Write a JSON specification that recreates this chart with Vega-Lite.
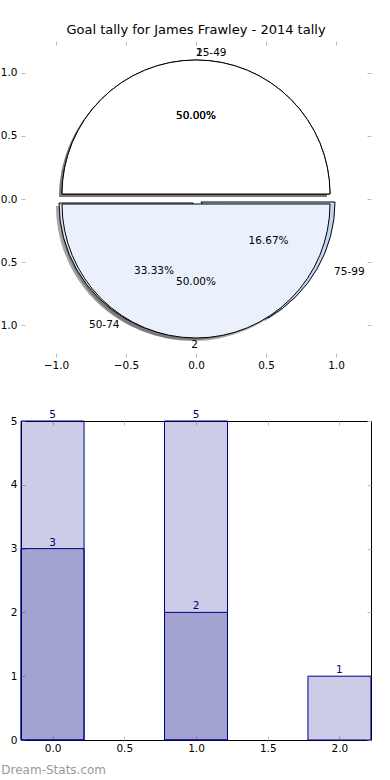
{
  "$schema": "https://vega.github.io/schema/vega-lite/v6.json",
  "padding": {"left": -9, "top": 23, "right": 0, "bottom": 0},
  "config": {
    "font": "DejaVu Sans",
    "view": {"stroke": null},
    "axis": {"labelFont": "DejaVu Sans", "labelFontSize": 10.5, "labelColor": "#000", "tickColor": "#bbbbbb", "tickSize": -4, "domain": false, "grid": false, "title": null},
    "axisX": {"labelPadding": 7},
    "axisY": {"labelPadding": 8},
    "title": {"font": "DejaVu Sans", "fontSize": 13, "fontWeight": "normal", "color": "#000"},
    "text": {"font": "DejaVu Sans"}
  },
  "datasets": {
    "pie1": [
      {"label": "1", "value": 1, "pct": "50.00%"},
      {"label": "2", "value": 1, "pct": "50.00%"}
    ],
    "pie2": [
      {"label": "25-49", "value": 3, "pct": "50.00%"},
      {"label": "50-74", "value": 2, "pct": "33.33%"},
      {"label": "75-99", "value": 1, "pct": "16.67%"}
    ],
    "bars": [
      {"pos": 0, "total": 5, "part": 3},
      {"pos": 1, "total": 5, "part": 2},
      {"pos": 2, "total": 1, "part": null}
    ]
  },
  "spacing": 38,
  "vconcat": [
    {
      "width": 350,
      "height": 316,
      "title": {"text": "Goal tally for James Frawley - 2014 tally", "offset": 4, "baseline": "top"},
      "view": {"stroke": null},
      "resolve": {"axis": {"x": "independent", "y": "independent"}},
      "layer": [
        {"data": {"name": "pie1"}, "mark": {"type": "point", "opacity": 0},
         "encoding": {
           "x": {"datum": 0, "type": "quantitative", "scale": {"domain": [-1.25, 1.25], "nice": false, "zero": false}, "axis": {"orient": "bottom", "values": [-1, -0.5, 0, 0.5, 1], "format": ".1f"}},
           "y": {"datum": 0, "type": "quantitative", "scale": {"domain": [-1.25, 1.25], "nice": false, "zero": false}, "axis": {"orient": "left", "values": [-1, -0.5, 0, 0.5, 1], "format": ".1f"}}}},
        {"data": {"name": "pie1"}, "mark": {"type": "point", "opacity": 0},
         "encoding": {
           "x": {"datum": 0, "type": "quantitative", "scale": {"domain": [-1.25, 1.25], "nice": false, "zero": false}, "axis": {"orient": "top", "values": [-1, -0.5, 0, 0.5, 1], "labels": false}},
           "y": {"datum": 0, "type": "quantitative", "scale": {"domain": [-1.25, 1.25], "nice": false, "zero": false}, "axis": {"orient": "right", "values": [-1, -0.5, 0, 0.5, 1], "labels": false}}}},

        {"data": {"name": "pie2"}, "mark": {"type": "arc", "radius": 134, "fill": "#4d4d4d", "fillOpacity": 0.5, "strokeWidth": 0, "xOffset": -3, "yOffset": -2},
         "encoding": {"theta": {"field": "value", "type": "quantitative", "stack": "normalize", "scale": {"domain": [0, 1], "range": [1.5708, -4.7124]}}, "order": {"field": "label", "type": "ordinal", "sort": "ascending"},
           "opacity": {"condition": {"test": "datum.label === '25-49'", "value": 1}, "value": 0}}},
        {"data": {"name": "pie2"}, "mark": {"type": "arc", "radius": 134, "fill": "#4d4d4d", "fillOpacity": 0.5, "strokeWidth": 0, "xOffset": -6, "yOffset": 7},
         "encoding": {"theta": {"field": "value", "type": "quantitative", "stack": "normalize", "scale": {"domain": [0, 1], "range": [1.5708, -4.7124]}}, "order": {"field": "label", "type": "ordinal", "sort": "ascending"},
           "opacity": {"condition": {"test": "datum.label === '50-74'", "value": 1}, "value": 0}}},
        {"data": {"name": "pie2"}, "mark": {"type": "arc", "radius": 134, "fill": "#4d4d4d", "fillOpacity": 0.5, "strokeWidth": 0, "xOffset": 2, "yOffset": 6},
         "encoding": {"theta": {"field": "value", "type": "quantitative", "stack": "normalize", "scale": {"domain": [0, 1], "range": [1.5708, -4.7124]}}, "order": {"field": "label", "type": "ordinal", "sort": "ascending"},
           "opacity": {"condition": {"test": "datum.label === '75-99'", "value": 1}, "value": 0}}},
        {"data": {"name": "pie1"}, "mark": {"type": "arc", "radius": 134, "fill": "#4d4d4d", "fillOpacity": 0.5, "strokeWidth": 0, "xOffset": -3, "yOffset": -2},
         "encoding": {"theta": {"field": "value", "type": "quantitative", "stack": "normalize", "scale": {"domain": [0, 1], "range": [1.5708, -4.7124]}}, "order": {"field": "label", "type": "ordinal", "sort": "ascending"},
           "opacity": {"condition": {"test": "datum.label === '1'", "value": 1}, "value": 0}}},
        {"data": {"name": "pie1"}, "mark": {"type": "arc", "radius": 134, "fill": "#4d4d4d", "fillOpacity": 0.5, "strokeWidth": 0, "xOffset": -3, "yOffset": 8},
         "encoding": {"theta": {"field": "value", "type": "quantitative", "stack": "normalize", "scale": {"domain": [0, 1], "range": [1.5708, -4.7124]}}, "order": {"field": "label", "type": "ordinal", "sort": "ascending"},
           "opacity": {"condition": {"test": "datum.label === '2'", "value": 1}, "value": 0}}},

        {"data": {"name": "pie2"}, "mark": {"type": "arc", "radius": 134, "fill": "#ffffff", "stroke": "#000000", "strokeWidth": 1, "xOffset": 0, "yOffset": -5},
         "encoding": {"theta": {"field": "value", "type": "quantitative", "stack": "normalize", "scale": {"domain": [0, 1], "range": [1.5708, -4.7124]}}, "order": {"field": "label", "type": "ordinal", "sort": "ascending"},
           "opacity": {"condition": {"test": "datum.label === '25-49'", "value": 1}, "value": 0}}},
        {"data": {"name": "pie2"}, "mark": {"type": "arc", "radius": 134, "fill": "#dde6f8", "stroke": "#000000", "strokeWidth": 1, "xOffset": -3, "yOffset": 4},
         "encoding": {"theta": {"field": "value", "type": "quantitative", "stack": "normalize", "scale": {"domain": [0, 1], "range": [1.5708, -4.7124]}}, "order": {"field": "label", "type": "ordinal", "sort": "ascending"},
           "opacity": {"condition": {"test": "datum.label === '50-74'", "value": 1}, "value": 0}}},
        {"data": {"name": "pie2"}, "mark": {"type": "arc", "radius": 134, "fill": "#c3d4f4", "stroke": "#000000", "strokeWidth": 1, "xOffset": 5, "yOffset": 3},
         "encoding": {"theta": {"field": "value", "type": "quantitative", "stack": "normalize", "scale": {"domain": [0, 1], "range": [1.5708, -4.7124]}}, "order": {"field": "label", "type": "ordinal", "sort": "ascending"},
           "opacity": {"condition": {"test": "datum.label === '75-99'", "value": 1}, "value": 0}}},
        {"data": {"name": "pie1"}, "mark": {"type": "arc", "radius": 134, "fill": "#ffffff", "stroke": "#000000", "strokeWidth": 1, "xOffset": 0, "yOffset": -5},
         "encoding": {"theta": {"field": "value", "type": "quantitative", "stack": "normalize", "scale": {"domain": [0, 1], "range": [1.5708, -4.7124]}}, "order": {"field": "label", "type": "ordinal", "sort": "ascending"},
           "opacity": {"condition": {"test": "datum.label === '1'", "value": 1}, "value": 0}}},
        {"data": {"name": "pie1"}, "mark": {"type": "arc", "radius": 134, "fill": "#eaf0fc", "stroke": "#000000", "strokeWidth": 1, "xOffset": 0, "yOffset": 5},
         "encoding": {"theta": {"field": "value", "type": "quantitative", "stack": "normalize", "scale": {"domain": [0, 1], "range": [1.5708, -4.7124]}}, "order": {"field": "label", "type": "ordinal", "sort": "ascending"},
           "opacity": {"condition": {"test": "datum.label === '2'", "value": 1}, "value": 0}}},

        {"data": {"name": "pie2"}, "mark": {"type": "text", "radius": 78, "dx": 0, "dy": -5, "fontSize": 10.5, "color": "#000", "align": "center", "baseline": "middle"},
         "encoding": {"theta": {"field": "value", "type": "quantitative", "stack": "normalize", "scale": {"domain": [0, 1], "range": [1.5708, -4.7124]}}, "order": {"field": "label", "type": "ordinal", "sort": "ascending"}, "text": {"field": "pct"},
           "opacity": {"condition": {"test": "datum.label === '25-49'", "value": 1}, "value": 0}}},
        {"data": {"name": "pie2"}, "mark": {"type": "text", "radius": 78, "dx": -3, "dy": 4, "fontSize": 10.5, "color": "#000", "align": "center", "baseline": "middle"},
         "encoding": {"theta": {"field": "value", "type": "quantitative", "stack": "normalize", "scale": {"domain": [0, 1], "range": [1.5708, -4.7124]}}, "order": {"field": "label", "type": "ordinal", "sort": "ascending"}, "text": {"field": "pct"},
           "opacity": {"condition": {"test": "datum.label === '50-74'", "value": 1}, "value": 0}}},
        {"data": {"name": "pie2"}, "mark": {"type": "text", "radius": 78, "dx": 5, "dy": 3, "fontSize": 10.5, "color": "#000", "align": "center", "baseline": "middle"},
         "encoding": {"theta": {"field": "value", "type": "quantitative", "stack": "normalize", "scale": {"domain": [0, 1], "range": [1.5708, -4.7124]}}, "order": {"field": "label", "type": "ordinal", "sort": "ascending"}, "text": {"field": "pct"},
           "opacity": {"condition": {"test": "datum.label === '75-99'", "value": 1}, "value": 0}}},
        {"data": {"name": "pie1"}, "mark": {"type": "text", "radius": 78, "dx": 0, "dy": -5, "fontSize": 10.5, "color": "#000", "align": "center", "baseline": "middle"},
         "encoding": {"theta": {"field": "value", "type": "quantitative", "stack": "normalize", "scale": {"domain": [0, 1], "range": [1.5708, -4.7124]}}, "order": {"field": "label", "type": "ordinal", "sort": "ascending"}, "text": {"field": "pct"},
           "opacity": {"condition": {"test": "datum.label === '1'", "value": 1}, "value": 0}}},
        {"data": {"name": "pie1"}, "mark": {"type": "text", "radius": 78, "dx": 0, "dy": 5, "fontSize": 10.5, "color": "#000", "align": "center", "baseline": "middle"},
         "encoding": {"theta": {"field": "value", "type": "quantitative", "stack": "normalize", "scale": {"domain": [0, 1], "range": [1.5708, -4.7124]}}, "order": {"field": "label", "type": "ordinal", "sort": "ascending"}, "text": {"field": "pct"},
           "opacity": {"condition": {"test": "datum.label === '2'", "value": 1}, "value": 0}}},

        {"data": {"name": "pie2"}, "mark": {"type": "text", "radius": 141, "dx": 0, "dy": -5, "fontSize": 10.5, "color": "#000", "align": "left", "baseline": "middle"},
         "encoding": {"theta": {"field": "value", "type": "quantitative", "stack": "normalize", "scale": {"domain": [0, 1], "range": [1.5708, -4.7124]}}, "order": {"field": "label", "type": "ordinal", "sort": "ascending"}, "text": {"field": "label"},
           "opacity": {"condition": {"test": "datum.label === '25-49'", "value": 1}, "value": 0}}},
        {"data": {"name": "pie2"}, "mark": {"type": "text", "radius": 141, "dx": -6, "dy": 4, "fontSize": 10.5, "color": "#000", "align": "right", "baseline": "middle"},
         "encoding": {"theta": {"field": "value", "type": "quantitative", "stack": "normalize", "scale": {"domain": [0, 1], "range": [1.5708, -4.7124]}}, "order": {"field": "label", "type": "ordinal", "sort": "ascending"}, "text": {"field": "label"},
           "opacity": {"condition": {"test": "datum.label === '50-74'", "value": 1}, "value": 0}}},
        {"data": {"name": "pie2"}, "mark": {"type": "text", "radius": 141, "dx": 16, "dy": 3, "fontSize": 10.5, "color": "#000", "align": "left", "baseline": "middle"},
         "encoding": {"theta": {"field": "value", "type": "quantitative", "stack": "normalize", "scale": {"domain": [0, 1], "range": [1.5708, -4.7124]}}, "order": {"field": "label", "type": "ordinal", "sort": "ascending"}, "text": {"field": "label"},
           "opacity": {"condition": {"test": "datum.label === '75-99'", "value": 1}, "value": 0}}},
        {"data": {"name": "pie1"}, "mark": {"type": "text", "radius": 141, "dx": 0, "dy": -5, "fontSize": 10.5, "color": "#000", "align": "left", "baseline": "middle"},
         "encoding": {"theta": {"field": "value", "type": "quantitative", "stack": "normalize", "scale": {"domain": [0, 1], "range": [1.5708, -4.7124]}}, "order": {"field": "label", "type": "ordinal", "sort": "ascending"}, "text": {"field": "label"},
           "opacity": {"condition": {"test": "datum.label === '1'", "value": 1}, "value": 0}}},
        {"data": {"name": "pie1"}, "mark": {"type": "text", "radius": 141, "dx": 2, "dy": 5, "fontSize": 10.5, "color": "#000", "align": "right", "baseline": "middle"},
         "encoding": {"theta": {"field": "value", "type": "quantitative", "stack": "normalize", "scale": {"domain": [0, 1], "range": [1.5708, -4.7124]}}, "order": {"field": "label", "type": "ordinal", "sort": "ascending"}, "text": {"field": "label"},
           "opacity": {"condition": {"test": "datum.label === '2'", "value": 1}, "value": 0}}}
      ]
    },
    {
      "width": 350,
      "height": 319,
      "data": {"name": "bars"},
      "view": {"stroke": "#000000", "strokeWidth": 1},
      "title": {"text": "Dream-Stats.com", "orient": "bottom", "anchor": "start", "color": "#999999", "fontSize": 12, "fontWeight": "normal", "baseline": "top", "offset": 11, "dx": -9},
      "resolve": {"axis": {"x": "independent", "y": "independent"}},
      "layer": [
        {"mark": {"type": "bar", "width": 63, "fill": "#000080", "fillOpacity": 0.2, "stroke": "#000080", "strokeWidth": 1},
         "encoding": {
           "x": {"field": "pos", "type": "quantitative", "scale": {"domain": [-0.22, 2.22], "nice": false, "zero": false, "padding": 0}, "axis": {"orient": "bottom", "values": [0, 0.5, 1, 1.5, 2], "format": ".1f"}},
           "y": {"field": "total", "type": "quantitative", "scale": {"domain": [0, 5], "nice": false, "padding": 0}, "axis": {"orient": "left", "values": [0, 1, 2, 3, 4, 5], "format": "d"}}}},
        {"transform": [{"filter": "isValid(datum.part)"}],
         "mark": {"type": "bar", "width": 63, "fill": "#000080", "fillOpacity": 0.2, "stroke": "#000080", "strokeWidth": 1},
         "encoding": {
           "x": {"field": "pos", "type": "quantitative", "axis": null},
           "y": {"field": "part", "type": "quantitative", "axis": null}}},
        {"mark": {"type": "text", "color": "#000080", "fontSize": 10.5, "baseline": "bottom", "dy": -1},
         "encoding": {
           "x": {"field": "pos", "type": "quantitative", "axis": null},
           "y": {"field": "total", "type": "quantitative", "axis": null},
           "text": {"field": "total"}}},
        {"transform": [{"filter": "isValid(datum.part)"}],
         "mark": {"type": "text", "color": "#000080", "fontSize": 10.5, "baseline": "bottom", "dy": -1},
         "encoding": {
           "x": {"field": "pos", "type": "quantitative", "axis": null},
           "y": {"field": "part", "type": "quantitative", "axis": null},
           "text": {"field": "part"}}},
        {"mark": {"type": "point", "opacity": 0},
         "encoding": {
           "x": {"field": "pos", "type": "quantitative", "axis": {"orient": "top", "values": [0, 0.5, 1, 1.5, 2], "labels": false}},
           "y": {"field": "total", "type": "quantitative", "axis": {"orient": "right", "values": [0, 1, 2, 3, 4, 5], "labels": false}}}}
      ]
    }
  ]
}
